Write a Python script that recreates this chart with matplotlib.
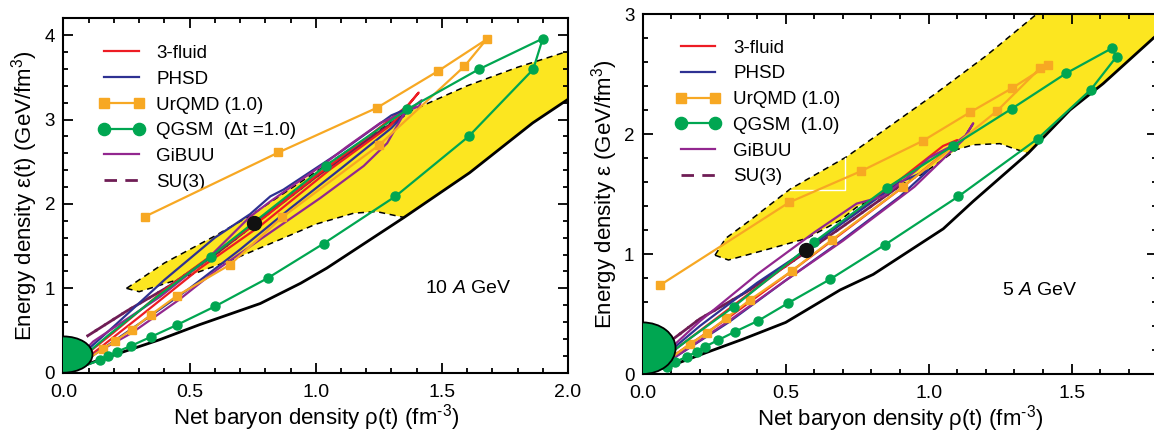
import numpy as np
import matplotlib
matplotlib.use("Agg")
import matplotlib.pyplot as plt
from matplotlib.patches import Ellipse
from matplotlib.lines import Line2D
from matplotlib.legend_handler import HandlerLine2D
from matplotlib.ticker import MultipleLocator

plt.rcParams['font.family'] = ['Liberation Sans', 'DejaVu Sans']
plt.rcParams['mathtext.fontset'] = 'custom'
plt.rcParams['mathtext.rm'] = 'Liberation Sans'
plt.rcParams['mathtext.it'] = 'Liberation Sans:italic'

# Colores
c_red = "#ED1C24"
c_blue = "#2E3192"
c_orange = "#F7A823"
c_green = "#00A651"
c_purple = "#92278F"
c_su3 = "#6F1D55"
c_yellow = "#FCE620"

# ---------------- Panel izquierdo: 10 A GeV ----------------
L_black_x = [0, 0.15, 0.38, 0.54, 0.78, 0.94, 1.044, 1.35, 1.61, 1.86, 2.0]
L_black_y = [0, 0.16, 0.39, 0.57, 0.82, 1.06, 1.24, 1.84, 2.37, 2.96, 3.24]

L_up_x = [0.25, 0.30, 0.40, 0.60, 0.75, 1.00, 1.20, 1.36, 1.60, 1.80, 2.0]
L_up_y = [1.00, 1.10, 1.30, 1.62, 1.88, 2.38, 2.78, 3.08, 3.40, 3.62, 3.81]
L_low_x = [0.25, 0.30, 0.45, 0.67, 0.86, 1.00, 1.15, 1.24, 1.35]
L_low_y = [1.00, 0.96, 1.10, 1.34, 1.58, 1.76, 1.89, 1.91, 1.84]

L_urqmd_x = [0, 0.10, 0.158, 0.204, 0.27, 0.346, 0.449, 0.66, 0.866, 1.252, 1.589, 1.677, 1.485, 1.243, 0.852, 0.323]
L_urqmd_y = [0, 0.17, 0.285, 0.375, 0.51, 0.685, 0.91, 1.28, 1.84, 2.70, 3.63, 3.95, 3.575, 3.14, 2.61, 1.85]

L_qgsm_x = [0, 0.10, 0.145, 0.178, 0.213, 0.267, 0.346, 0.449, 0.60, 0.809, 1.031, 1.316, 1.606, 1.862, 1.90, 1.646, 1.362, 1.04, 0.583, 0.38, 0.18, 0.05, 0]
L_qgsm_y = [0, 0.10, 0.15, 0.20, 0.25, 0.317, 0.424, 0.565, 0.785, 1.12, 1.53, 2.09, 2.80, 3.595, 3.96, 3.595, 3.12, 2.455, 1.375, 0.92, 0.45, 0.12, 0]
L_qgsm_mark = [2, 3, 4, 5, 6, 7, 8, 9, 10, 11, 12, 13, 14, 15, 16, 17, 18]

L_fluid_x = [0, 0.10, 0.30, 0.542, 0.78, 1.057, 1.296, 1.408, 1.37, 1.20, 1.00, 0.80, 0.60, 0.40, 0.20, 0.05, 0]
L_fluid_y = [0, 0.19, 0.66, 1.24, 1.74, 2.41, 2.93, 3.32, 3.18, 2.78, 2.33, 1.85, 1.42, 0.98, 0.48, 0.12, 0]

L_phsd_x = [0, 0.10, 0.30, 0.50, 0.70, 0.90, 1.10, 1.30, 1.38, 1.30, 1.10, 0.872, 0.82, 0.74, 0.60, 0.40, 0.20, 0.05, 0]
L_phsd_y = [0, 0.17, 0.58, 1.00, 1.46, 1.95, 2.42, 2.90, 3.15, 3.05, 2.62, 2.17, 2.09, 1.88, 1.60, 1.10, 0.55, 0.15, 0]

L_gibuu_x = [0, 0.12, 0.27, 0.456, 0.608, 0.78, 1.018, 1.19, 1.283, 1.348, 1.42, 1.41, 1.256, 1.124, 1.031, 0.925, 0.82, 0.74, 0.568, 0.383, 0.118, 0]
L_gibuu_y = [0, 0.22, 0.47, 0.86, 1.22, 1.58, 2.07, 2.45, 2.72, 3.06, 3.23, 3.16, 2.96, 2.68, 2.47, 2.25, 2.03, 1.85, 1.34, 0.90, 0.37, 0]

L_su3_x = [0.092, 0.25, 0.416, 0.60, 0.80, 1.00, 1.20, 1.35]
L_su3_y = [0.43, 0.73, 1.02, 1.40, 1.86, 2.32, 2.75, 3.05]

L_dot = (0.756, 1.78)

# ---------------- Panel derecho: 5 A GeV ----------------
R_black_x = [0, 0.10, 0.224, 0.35, 0.50, 0.69, 0.806, 1.051, 1.156, 1.348, 1.494, 1.61, 1.80]
R_black_y = [0, 0.07, 0.18, 0.29, 0.43, 0.70, 0.83, 1.21, 1.44, 1.84, 2.20, 2.42, 2.83]

R_up_x = [0.253, 0.29, 0.375, 0.515, 0.713, 1.02, 1.20, 1.378, 1.80]
R_up_y = [0.99, 1.13, 1.28, 1.54, 1.81, 2.33, 2.65, 3.00, 3.00]
R_low_x = [0.253, 0.30, 0.469, 0.573, 0.69, 0.748, 0.981, 1.098, 1.156, 1.249, 1.296, 1.348]
R_low_y = [0.99, 0.95, 1.06, 1.13, 1.28, 1.39, 1.67, 1.87, 1.91, 1.92, 1.88, 1.84]

R_urqmd_x = [0, 0.08, 0.165, 0.224, 0.291, 0.375, 0.521, 0.661, 0.911, 1.238, 1.389, 1.418, 1.29, 1.144, 0.981, 0.763, 0.512, 0.0605]
R_urqmd_y = [0, 0.10, 0.25, 0.34, 0.464, 0.617, 0.858, 1.117, 1.56, 2.19, 2.547, 2.575, 2.38, 2.18, 1.945, 1.69, 1.43, 0.74]

R_qgsm_x = [0, 0.084, 0.113, 0.154, 0.189, 0.218, 0.264, 0.323, 0.404, 0.507, 0.655, 0.847, 1.104, 1.381, 1.567, 1.657, 1.640, 1.48, 1.29, 1.084, 0.853, 0.598, 0.318, 0.15, 0.04, 0]
R_qgsm_y = [0, 0.061, 0.10, 0.144, 0.186, 0.228, 0.283, 0.353, 0.444, 0.589, 0.789, 1.077, 1.48, 1.96, 2.37, 2.645, 2.714, 2.505, 2.21, 1.90, 1.55, 1.097, 0.56, 0.27, 0.07, 0]
R_qgsm_mark = list(range(1, 23))

R_fluid_x = [0, 0.10, 0.30, 0.50, 0.70, 0.90, 1.05, 1.10, 1.05, 0.90, 0.70, 0.50, 0.30, 0.10, 0]
R_fluid_y = [0, 0.14, 0.47, 0.82, 1.18, 1.54, 1.83, 1.95, 1.90, 1.62, 1.27, 0.90, 0.54, 0.18, 0]

R_phsd_x = [0, 0.10, 0.30, 0.50, 0.70, 0.90, 1.00, 0.90, 0.70, 0.57, 0.40, 0.20, 0]
R_phsd_y = [0, 0.12, 0.43, 0.78, 1.12, 1.48, 1.70, 1.60, 1.26, 1.03, 0.76, 0.40, 0]

R_gibuu_x = [0, 0.10, 0.30, 0.50, 0.70, 0.85, 0.95, 1.05, 1.12, 1.156, 1.13, 1.08, 1.00, 0.958, 0.841, 0.748, 0.60, 0.40, 0.20, 0.05, 0]
R_gibuu_y = [0, 0.12, 0.44, 0.78, 1.11, 1.38, 1.56, 1.79, 1.95, 2.09, 1.99, 1.90, 1.80, 1.70, 1.48, 1.42, 1.18, 0.83, 0.44, 0.11, 0]

R_su3_x = [0.10, 0.20, 0.364, 0.50, 0.70, 0.90]
R_su3_y = [0.28, 0.46, 0.686, 0.90, 1.23, 1.57]

R_white_x = [0.515, 0.707, 0.707]
R_white_y = [1.533, 1.533, 1.80]

R_dot = (0.571, 1.03)

# Región verde en el origen (semi-elipse)
blob_center_y = 0.215
blob_half_w = 0.115
blob_half_h = 0.215


def draw_panel(ax, d, xmax, ymax, label_qgsm, ylab, energy, energy_xy):
    # región amarilla
    poly_x = list(d['up_x']) + [xmax] + [x for x in d['black_x'][::-1] if x >= d['low_x'][-1]] + list(d['low_x'][::-1])
    poly_y = list(d['up_y']) + [np.interp(xmax, d['black_x'], d['black_y'])] + \
        [y for x, y in zip(d['black_x'][::-1], d['black_y'][::-1]) if x >= d['low_x'][-1]] + list(d['low_y'][::-1])
    ax.fill(poly_x, poly_y, color=c_yellow, lw=0, zorder=1)
    ax.plot(d['up_x'], d['up_y'], color='black', ls=(0, (4, 3)), lw=1.1, zorder=2)
    ax.plot(d['low_x'], d['low_y'], color='black', ls=(0, (4, 3)), lw=1.1, zorder=2)
    if 'white_x' in d:
        ax.plot(d['white_x'], d['white_y'], color='white', lw=1.0, zorder=2)
    ax.plot(d['black_x'], d['black_y'], color='black', lw=2.0, zorder=3)

    # trayectorias
    ax.plot(d['su3_x'], d['su3_y'], color=c_su3, lw=2.0, ls=(0, (4.5, 3)), zorder=4, label='SU(3)')
    ax.plot(d['su3_x'], d['su3_y'], color=c_su3, lw=2.0, ls=(4, (4.5, 3)), zorder=4)
    ax.plot(d['fluid_x'], d['fluid_y'], color=c_red, lw=1.6, zorder=5, label='3-fluid')
    ax.plot(d['phsd_x'], d['phsd_y'], color=c_blue, lw=1.6, zorder=5, label='PHSD')
    ax.plot(d['urqmd_x'], d['urqmd_y'], color=c_orange, lw=1.6, marker='s', ms=5.5,
            markevery=list(range(2, len(d['urqmd_x']))), zorder=6, label='UrQMD (1.0)')
    ax.plot(d['qgsm_x'], d['qgsm_y'], color=c_green, lw=1.6, marker='o', ms=6.5,
            markevery=d['qgsm_mark'], zorder=6, label=label_qgsm)
    ax.plot(d['gibuu_x'], d['gibuu_y'], color=c_purple, lw=1.6, zorder=5, label='GiBUU')

    ax.add_patch(Ellipse((0, blob_center_y), 2 * blob_half_w, 2 * blob_half_h,
                         facecolor=c_green, edgecolor='black', lw=1.3, zorder=7))
    ax.plot(*d['dot'], 'o', color='#111111', ms=10, zorder=8)

    ax.text(energy_xy[0], energy_xy[1], energy, fontsize=14, va='center', ha='left')

    ax.set_xlim(0, xmax)
    ax.set_ylim(0, ymax)
    ax.xaxis.set_major_locator(MultipleLocator(0.5))
    ax.xaxis.set_minor_locator(MultipleLocator(0.1))
    ax.yaxis.set_major_locator(MultipleLocator(1))
    ax.yaxis.set_minor_locator(MultipleLocator(0.2))
    ax.xaxis.set_major_formatter(matplotlib.ticker.FormatStrFormatter('%.1f'))
    ax.tick_params(which='both', direction='in', top=True, right=True, labelsize=14, width=1.3)
    ax.tick_params(which='major', length=7)
    ax.tick_params(which='minor', length=3.5)
    ax.tick_params(axis='x', which='major', pad=8)
    ax.tick_params(axis='y', which='major', pad=6, labelsize=13.5)
    for s in ax.spines.values():
        s.set_linewidth(1.5)
    ax.set_xlabel(r'Net baryon density ρ(t) (fm$^{\text{-3}}$)', fontsize=16, labelpad=1)
    ax.set_ylabel(ylab, fontsize=16, labelpad=3)

    h, l = ax.get_legend_handles_labels()
    order = ['3-fluid', 'PHSD', 'UrQMD (1.0)', label_qgsm, 'GiBUU', 'SU(3)']
    hs = [h[l.index(o)] for o in order]
    return hs, order


fig = plt.figure(figsize=(11.54, 4.34), dpi=100)
axL = fig.add_axes([0.0550, 0.1412, 0.4372, 0.8166])
axR = fig.add_axes([0.5569, 0.1382, 0.4461, 0.8295])

dL = dict(black_x=L_black_x, black_y=L_black_y, up_x=L_up_x, up_y=L_up_y, low_x=L_low_x, low_y=L_low_y,
          urqmd_x=L_urqmd_x, urqmd_y=L_urqmd_y, qgsm_x=L_qgsm_x, qgsm_y=L_qgsm_y, qgsm_mark=L_qgsm_mark,
          fluid_x=L_fluid_x, fluid_y=L_fluid_y, phsd_x=L_phsd_x, phsd_y=L_phsd_y,
          gibuu_x=L_gibuu_x, gibuu_y=L_gibuu_y, su3_x=L_su3_x, su3_y=L_su3_y, dot=L_dot)
dR = dict(black_x=R_black_x, black_y=R_black_y, up_x=R_up_x, up_y=R_up_y, low_x=R_low_x, low_y=R_low_y,
          urqmd_x=R_urqmd_x, urqmd_y=R_urqmd_y, qgsm_x=R_qgsm_x, qgsm_y=R_qgsm_y, qgsm_mark=R_qgsm_mark,
          fluid_x=R_fluid_x, fluid_y=R_fluid_y, phsd_x=R_phsd_x, phsd_y=R_phsd_y,
          gibuu_x=R_gibuu_x, gibuu_y=R_gibuu_y, su3_x=R_su3_x, su3_y=R_su3_y, dot=R_dot,
          white_x=R_white_x, white_y=R_white_y)

hL, lL = draw_panel(axL, dL, 2.0, 4.2, 'QGSM  (Δt =1.0)',
                    r'Energy density ε(t) (GeV/fm$^{\text{3}}$)', r'10 $\it{A}$ GeV', (1.435, 1.0))
hR, lR = draw_panel(axR, dR, 1.8, 3.0, 'QGSM  (1.0)',
                    r'Energy density ε (GeV/fm$^{\text{3}}$)', r'5 $\it{A}$ GeV', (1.255, 0.70))

for ax, hs, ls, anchor in [(axL, hL, lL, (0.08, 0.925)), (axR, hR, lR, (0.074, 0.929))]:
    ax.legend(hs, ls, loc='upper left', bbox_to_anchor=anchor, frameon=False, fontsize=13.5,
              handlelength=1.85, handletextpad=0.95, labelspacing=0.46, borderpad=0,
              borderaxespad=0, numpoints=2, markerscale=1.35,
              handler_map={Line2D: HandlerLine2D(marker_pad=0)})

fig.savefig("out.png", dpi=100)
